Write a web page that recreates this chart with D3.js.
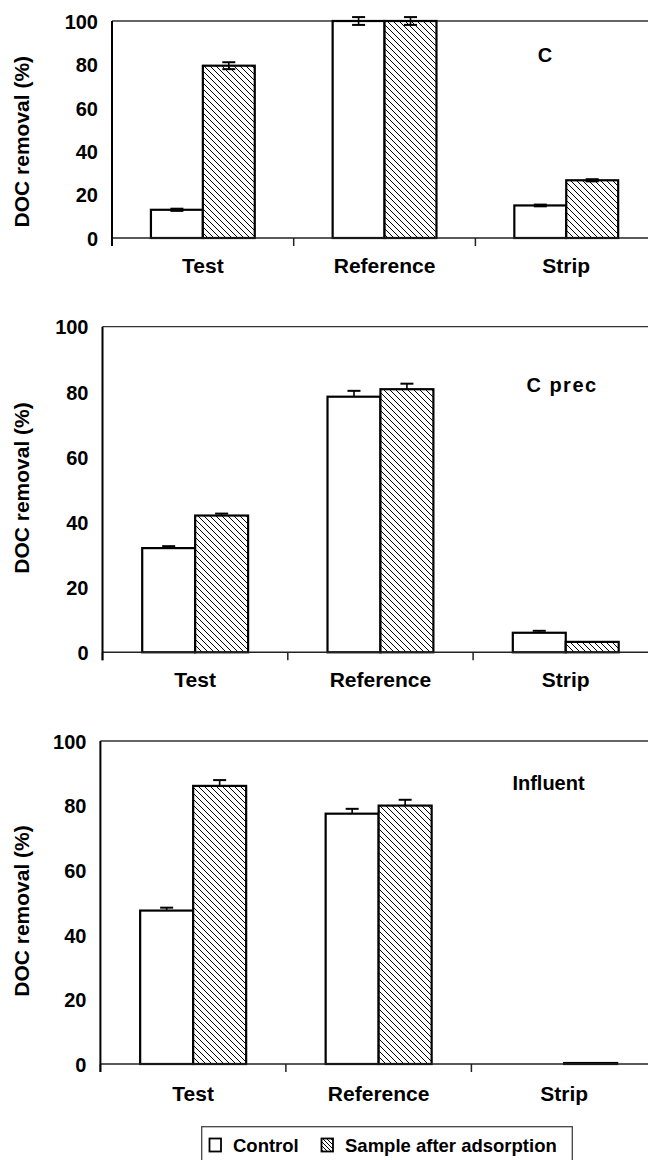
<!DOCTYPE html>
<html>
<head>
<meta charset="utf-8">
<script src="https://cdn.jsdelivr.net/npm/d3@7"></script>
<style>
  html, body { margin: 0; padding: 0; background: #fff; }
  svg { display: block; }
  text { font-family: "Liberation Sans", Arial, Helvetica, sans-serif; font-weight: bold; fill: #000; }
</style>
</head>
<body>
<svg id="chart" width="648" height="1160"></svg>
<script>
// Categories, series and axis ticks
const categories = ["Test", "Reference", "Strip"];
const seriesNames = ["Control", "Sample after adsorption"];
const panelTitles = ["C", "C prec", "Influent"];
const yTicks = [0, 20, 40, 60, 80, 100];

// DOC removal (%) per category: C
const controlC = [13, 100, 15];
const sampleC = [79.4, 100, 26.6];
const errControlC = [0.5, 1.8, 0.4];
const errSampleC = [1.6, 1.8, 0.5];

// C prec
const controlCprec = [32, 78.5, 6];
const sampleCprec = [42, 80.8, 3.2];
const errControlCprec = [0.6, 1.8, 0.6];
const errSampleCprec = [0.6, 1.7, 0];

// Influent
const controlInfluent = [47.5, 77.5, 0];
const sampleInfluent = [86.1, 80.0, 0.3];
const errControlInfluent = [0.9, 1.5, 0];
const errSampleInfluent = [1.8, 1.8, 0];

const svg = d3.select("#chart");

// Diagonal hatch for the "after adsorption" series
const defs = svg.append("defs");
const hatch = defs.append("pattern")
  .attr("id", "hatch")
  .attr("patternUnits", "userSpaceOnUse")
  .attr("width", 6).attr("height", 6);
hatch.append("rect").attr("width", 6).attr("height", 6).attr("fill", "#fff");
hatch.append("path")
  .attr("d", "M0,0 L6,6 M-3,3 L3,9 M3,-3 L9,3")
  .attr("stroke", "#000").attr("stroke-width", 1);

const hatchSmall = defs.append("pattern")
  .attr("id", "hatchSmall")
  .attr("patternUnits", "userSpaceOnUse")
  .attr("width", 4).attr("height", 4);
hatchSmall.append("rect").attr("width", 4).attr("height", 4).attr("fill", "#fff");
hatchSmall.append("path")
  .attr("d", "M0,0 L4,4 M-2,2 L2,6 M2,-2 L6,2")
  .attr("stroke", "#000").attr("stroke-width", 1);

const panels = [
  { title: panelTitles[0], control: controlC, sample: sampleC, errC: errControlC, errS: errSampleC,
    twoSided: true, left: 112, top: 21, zero: 238, band: 181.7, labelY: 141.7, titleX: 545, titleY: 55, catDy: 35 },
  { title: panelTitles[1], control: controlCprec, sample: sampleCprec, errC: errControlCprec, errS: errSampleCprec,
    twoSided: false, left: 102.5, top: 326.7, zero: 652.3, band: 185.3, labelY: 488, titleX: 562, titleY: 385, catDy: 35 },
  { title: panelTitles[2], control: controlInfluent, sample: sampleInfluent, errC: errControlInfluent, errS: errSampleInfluent,
    twoSided: false, left: 100.4, top: 741, zero: 1064, band: 185.5, labelY: 911, titleX: 548.5, titleY: 783, catDy: 37 }
];

panels.forEach(p => {
  const g = svg.append("g");
  const x0 = d3.scaleBand().domain(categories)
    .range([p.left, p.left + p.band * categories.length]).padding(0);
  const x1 = d3.scaleBand().domain(seriesNames)
    .range([0, x0.bandwidth()]).paddingInner(0).paddingOuter(0.75);
  const y = d3.scaleLinear().domain([0, 100]).range([p.zero, p.top]);

  // plot frame: top border
  g.append("line")
    .attr("x1", p.left).attr("x2", 648)
    .attr("y1", y(100)).attr("y2", y(100))
    .attr("stroke", "#333").attr("stroke-width", 1.3);

  // bars
  const rows = categories.map((c, i) => [
    { cat: c, s: seriesNames[0], v: p.control[i], e: p.errC[i] },
    { cat: c, s: seriesNames[1], v: p.sample[i], e: p.errS[i] }
  ]).flat();

  g.selectAll("rect.bar").data(rows).join("rect")
    .attr("class", "bar")
    .attr("x", d => x0(d.cat) + x1(d.s))
    .attr("width", x1.bandwidth())
    .attr("y", d => y(d.v))
    .attr("height", d => y(0) - y(d.v))
    .attr("fill", d => d.s === seriesNames[0] ? "#fff" : "url(#hatch)")
    .attr("stroke", "#000").attr("stroke-width", 2.2);

  // error bars
  const cap = 6.5;
  rows.filter(d => d.e > 0).forEach(d => {
    const cx = x0(d.cat) + x1(d.s) + x1.bandwidth() / 2;
    const lo = p.twoSided ? d.v - d.e : d.v;
    const hi = d.v + d.e;
    g.append("line").attr("x1", cx).attr("x2", cx)
      .attr("y1", y(lo)).attr("y2", y(hi))
      .attr("stroke", "#000").attr("stroke-width", 1.6);
    g.append("line").attr("x1", cx - cap).attr("x2", cx + cap)
      .attr("y1", y(hi)).attr("y2", y(hi))
      .attr("stroke", "#000").attr("stroke-width", 2);
    if (p.twoSided) {
      g.append("line").attr("x1", cx - cap).attr("x2", cx + cap)
        .attr("y1", y(lo)).attr("y2", y(lo))
        .attr("stroke", "#000").attr("stroke-width", 2);
    }
  });

  // x baseline and category separators
  g.append("line")
    .attr("x1", p.left).attr("x2", 648)
    .attr("y1", y(0)).attr("y2", y(0))
    .attr("stroke", "#222").attr("stroke-width", 1.5);
  g.selectAll("line.sep").data(categories).join("line")
    .attr("class", "sep")
    .attr("x1", d => x0(d)).attr("x2", d => x0(d))
    .attr("y1", y(0)).attr("y2", y(0) + 8)
    .attr("stroke", "#222").attr("stroke-width", 1.5);

  // category labels
  const xAxis = g.append("g")
    .attr("transform", `translate(0,${y(0) + p.catDy})`)
    .call(d3.axisBottom(x0).tickSize(0).tickPadding(0));
  xAxis.select(".domain").remove();
  xAxis.selectAll("text")
    .attr("dy", 0)
    .attr("font-size", 21)
    .attr("font-family", null)
    .attr("fill", "#000");

  // y axis
  const yAxis = g.append("g")
    .attr("transform", `translate(${p.left},0)`)
    .call(d3.axisLeft(y).tickValues(yTicks).tickSize(0).tickPadding(14));
  yAxis.select(".domain").remove();
  yAxis.selectAll("text")
    .attr("font-size", 20)
    .attr("font-family", null)
    .attr("fill", "#000")
    .attr("dy", "0.36em");
  g.append("line")
    .attr("x1", p.left).attr("x2", p.left)
    .attr("y1", y(100)).attr("y2", y(0) + 8)
    .attr("stroke", "#000").attr("stroke-width", 2);

  // axis title
  g.append("text")
    .attr("transform", `translate(21,${p.labelY}) rotate(-90)`)
    .attr("text-anchor", "middle")
    .attr("dominant-baseline", "central")
    .attr("font-size", 21)
    .text("DOC removal (%)");

  // panel title
  g.append("text")
    .attr("x", p.titleX).attr("y", p.titleY)
    .attr("text-anchor", "middle")
    .attr("dominant-baseline", "central")
    .attr("font-size", 20)
    .attr("letter-spacing", p.title === "C prec" ? 1.5 : 0)
    .text(p.title);
});

// legend
const lg = svg.append("g");
lg.append("rect")
  .attr("x", 201.7).attr("y", 1126.7)
  .attr("width", 370.6).attr("height", 50)
  .attr("fill", "#fff").attr("stroke", "#444").attr("stroke-width", 1.3);
const legendItems = [
  { name: seriesNames[0], fill: "#fff", sx: 209.5, tx: 233 },
  { name: seriesNames[1], fill: "url(#hatchSmall)", sx: 321.5, tx: 345 }
];
legendItems.forEach(it => {
  lg.append("rect")
    .attr("x", it.sx).attr("y", 1138.5)
    .attr("width", 11.5).attr("height", 13)
    .attr("fill", it.fill).attr("stroke", "#000").attr("stroke-width", 1.8);
  lg.append("text")
    .attr("x", it.tx).attr("y", 1145)
    .attr("dominant-baseline", "central")
    .attr("font-size", 18.5)
    .text(it.name);
});
</script>
</body>
</html>
